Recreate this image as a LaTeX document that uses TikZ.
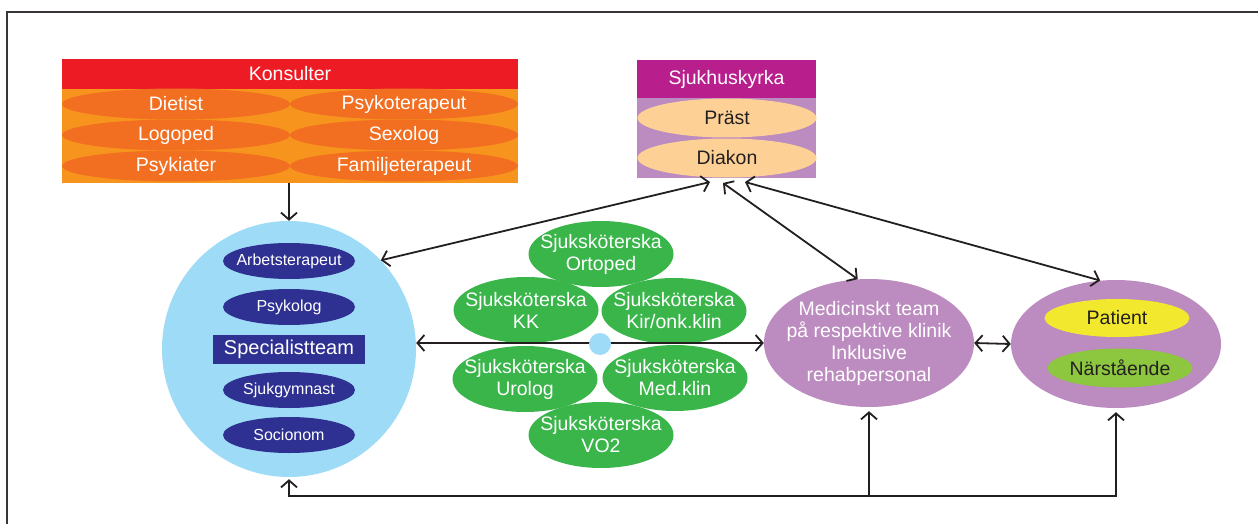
\documentclass[tikz,border=0pt]{standalone}
\usepackage{fontspec}
\setmainfont{Liberation Sans}
\usetikzlibrary{shapes.geometric,arrows.meta}
\definecolor{kred}{HTML}{ED1C24}
\definecolor{korange}{HTML}{F7941D}
\definecolor{kell}{HTML}{F26F21}
\definecolor{smag}{HTML}{B81E8C}
\definecolor{lilac}{HTML}{BC8BBF}
\definecolor{peach}{HTML}{FDD195}
\definecolor{lblue}{HTML}{9EDBF7}
\definecolor{navy}{HTML}{2E3192}
\definecolor{ngreen}{HTML}{39B54A}
\definecolor{pyellow}{HTML}{F2E92E}
\definecolor{lgreen}{HTML}{8DC63F}
\definecolor{ink}{HTML}{231F20}
\begin{document}
\begin{tikzpicture}[x=1pt,y=-1pt,
  txt/.style={font=\fontsize{19.5}{22}\selectfont, align=center},
  box/.style={rectangle, inner sep=0pt, draw=none, txt},
  ell/.style={ellipse, inner sep=-90pt, draw=none, txt},
  kons/.style={ell, fill=kell, text=white, minimum width=228pt, minimum height=31pt},
  kyrk/.style={ell, fill=peach, text=ink, minimum width=179pt, minimum height=39pt},
  spc/.style={ell, fill=navy, text=white, minimum width=132pt, minimum height=36pt, font=\fontsize{16}{18}\selectfont},
  nurse/.style={ell, fill=ngreen, text=white, minimum width=145pt, minimum height=66pt},
  conn/.style={draw=ink, line width=1.8pt},
  >={Straight Barb[length=7pt,width=16pt]}
]
\useasboundingbox (0,0) rectangle (1258,524);
\fill[white] (0,0) rectangle (1258,524);
% frame
\draw[line width=2pt, draw=ink!90] (7,524) -- (7,12) -- (1258,12);

% Konsulter
\node[box, fill=kred, text=white, minimum width=456pt, minimum height=30pt] (khead) at (290,74) {Konsulter};
\node[box, fill=korange, minimum width=456pt, minimum height=94pt] (kbody) at (290,136) {};
\node[kons] (dietist) at (176,104) {Dietist};
\node[kons] (psykoter) at (404,104) {Psykoterapeut};
\node[kons] (logoped) at (176,135) {Logoped};
\node[kons] (sexolog) at (404,135) {Sexolog};
\node[kons] (psykiater) at (176,166) {Psykiater};
\node[kons] (familj) at (404,166) {Familjeterapeut};

% Sjukhuskyrka
\node[box, fill=smag, text=white, minimum width=179pt, minimum height=38pt] (shead) at (726.5,79) {Sjukhuskyrka};
\node[box, fill=lilac, minimum width=179pt, minimum height=80pt] (sbody) at (726.5,138) {};
\node[kyrk] (prast) at (727,118) {Präst};
\node[kyrk] (diakon) at (727,158) {Diakon};

% Specialistteam
\node[ell, fill=lblue, minimum width=254pt, minimum height=256pt] (spec) at (289,349) {};
\node[spc] (arbets) at (289,261) {Arbetsterapeut};
\node[spc] (psykolog) at (289,307) {Psykolog};
\node[box, fill=navy, text=white, minimum width=152pt, minimum height=29pt, font=\fontsize{20}{22}\selectfont] (specl) at (289,349.5) {Specialistteam};
\node[spc] (sjukgym) at (289,390) {Sjukgymnast};
\node[spc] (socionom) at (289,435) {Socionom};

% Nurses
\node[nurse] (ortoped) at (601,254) {Sjuksköterska\\Ortoped};
\node[nurse] (kk) at (526,310) {Sjuksköterska\\KK};
\node[nurse] (kir) at (674,311) {Sjuksköterska\\Kir/onk.klin};
\node[nurse] (urolog) at (525,379) {Sjuksköterska\\Urolog};
\node[nurse] (medklin) at (675,378) {Sjuksköterska\\Med.klin};
\node[nurse] (vo2) at (601,435) {Sjuksköterska\\VO2};

% Medicinskt team
\node[ell, fill=lilac, text=white, minimum width=210pt, minimum height=128pt] (medic) at (869,343) {Medicinskt team\\på respektive klinik\\Inklusive\\rehabpersonal};

% Patient group
\node[ell, fill=lilac, minimum width=210pt, minimum height=128pt] (pgroup) at (1116,344) {};
\node[ell, fill=pyellow, text=ink, minimum width=145pt, minimum height=38pt] (patient) at (1117,318) {Patient};
\node[ell, fill=lgreen, text=ink, minimum width=145pt, minimum height=39pt] (narst) at (1120,368) {Närstående};

% connectors
\draw[conn,->] (spec.north |- kbody.south) -- (spec.north);
\coordinate (s1) at (710,182);
\coordinate (s2) at (723,183);
\coordinate (s3) at (745,182);
\draw[conn,<->] (spec.44) -- (s1);
\draw[conn,<->] (s2) -- (medic.100);
\draw[conn,<->] (s3) -- (pgroup.104);
\draw[conn,<->] (medic.west) -- (medic.west -| spec.east);
\node[circle, fill=lblue, inner sep=0pt, minimum size=22pt] (dot) at (600,344) {};
\draw[conn,<->] (medic.east) -- (pgroup.west);
\coordinate (bot) at (0,496);
\draw[conn,<->,shorten <=2pt, shorten >=4pt] (spec.south) -- (spec.south |- bot) -- (pgroup.south |- bot) -- (pgroup.south);
\draw[conn,->,shorten >=4pt] (medic.south |- bot) -- (medic.south);
\end{tikzpicture}
\end{document}
